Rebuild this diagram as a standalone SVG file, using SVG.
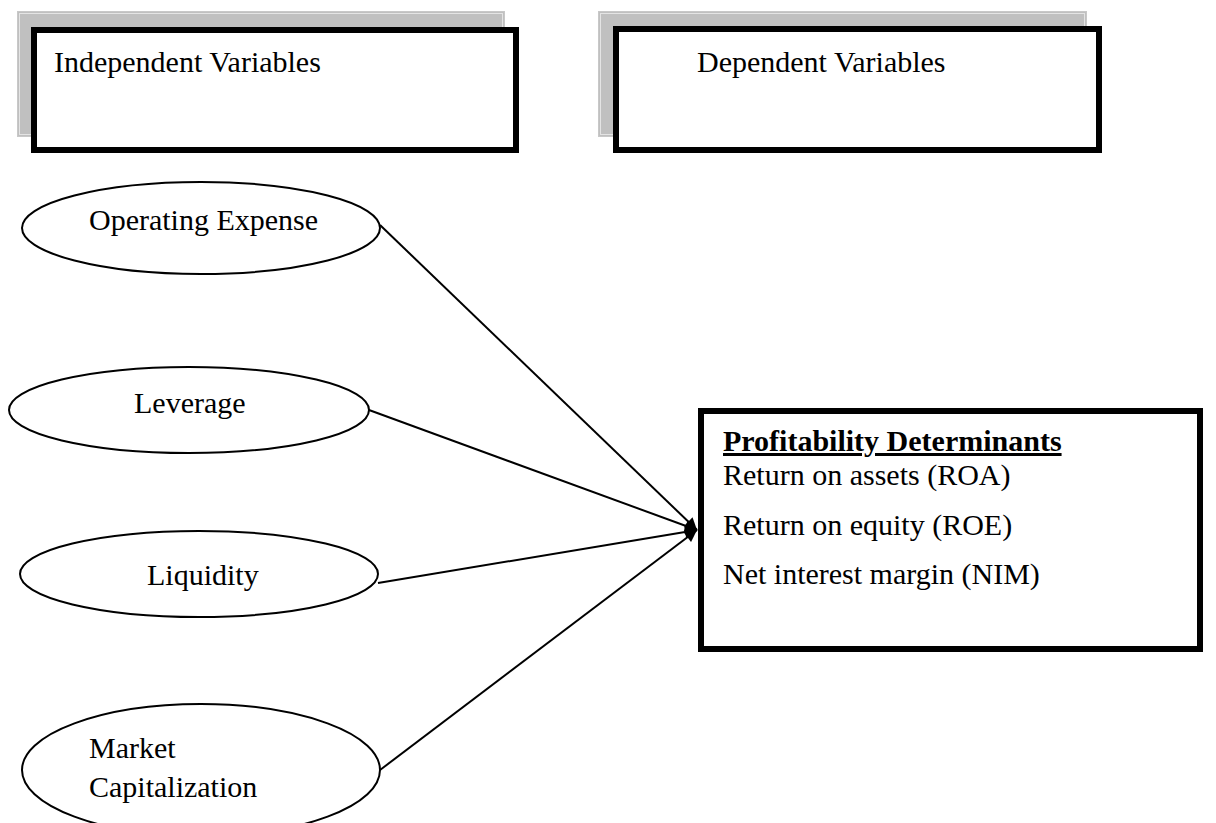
<svg xmlns="http://www.w3.org/2000/svg" width="1216" height="823" viewBox="0 0 1216 823">
<style>
.t{font-family:"Liberation Serif","Times New Roman",serif;font-size:30px;fill:#000}
.b{font-weight:bold;text-decoration:underline}
.shadow{fill:#c0c0c0;stroke:#c8c8c8;stroke-width:1}
.hl{fill:none;stroke:#e4e4e4;stroke-width:1}
.box{fill:#fff;stroke:#000;stroke-width:6}
.ell{fill:#fff;stroke:#000;stroke-width:2}
.con{stroke:#000;stroke-width:2;fill:none;marker-end:url(#ah)}
</style>
<defs>
<marker id="ah" viewBox="0 0 10 10" refX="10" refY="5" markerWidth="7" markerHeight="6" markerUnits="strokeWidth" orient="auto">
<path d="M0,0 L10,5 L0,10 Z" fill="#000"/>
</marker>
</defs>
<rect width="1216" height="823" fill="#fff"/>
<g id="independent-header">
<rect class="shadow" x="17.5" y="11.5" width="487" height="125"/>
<rect class="hl" x="19.5" y="13.5" width="483" height="121"/>
<rect class="box" x="34" y="30" width="482" height="120"/>
<text class="t" x="54" y="72">Independent Variables</text>
</g>
<g id="dependent-header">
<rect class="shadow" x="598.5" y="11.5" width="488" height="125"/>
<rect class="hl" x="600.5" y="13.5" width="484" height="121"/>
<rect class="box" x="616" y="29" width="483" height="121"/>
<text class="t" x="697" y="72">Dependent Variables</text>
</g>
<g id="connectors">
<line class="con" x1="380" y1="225" x2="697" y2="530"/>
<line class="con" x1="369" y1="410" x2="697" y2="530"/>
<line class="con" x1="378" y1="583" x2="697" y2="530"/>
<line class="con" x1="380" y1="770" x2="697" y2="530"/>
</g>
<g id="operating-expense">
<ellipse class="ell" cx="201" cy="228" rx="179" ry="46"/>
<text class="t" x="89" y="230">Operating Expense</text>
</g>
<g id="leverage">
<ellipse class="ell" cx="189" cy="410" rx="180" ry="43"/>
<text class="t" x="134" y="413">Leverage</text>
</g>
<g id="liquidity">
<ellipse class="ell" cx="199" cy="574" rx="179" ry="43"/>
<text class="t" x="147" y="585">Liquidity</text>
</g>
<g id="market-capitalization">
<ellipse class="ell" cx="201" cy="770" rx="179" ry="66"/>
<text class="t" x="89" y="758">Market</text>
<text class="t" x="89" y="797">Capitalization</text>
</g>
<g id="profitability">
<rect class="box" x="701" y="411" width="499" height="238"/>
<text class="t b" x="723" y="451">Profitability Determinants</text>
<text class="t" x="723" y="485">Return on assets (ROA)</text>
<text class="t" x="723" y="535">Return on equity (ROE)</text>
<text class="t" x="723" y="584">Net interest margin (NIM)</text>
</g>
</svg>
